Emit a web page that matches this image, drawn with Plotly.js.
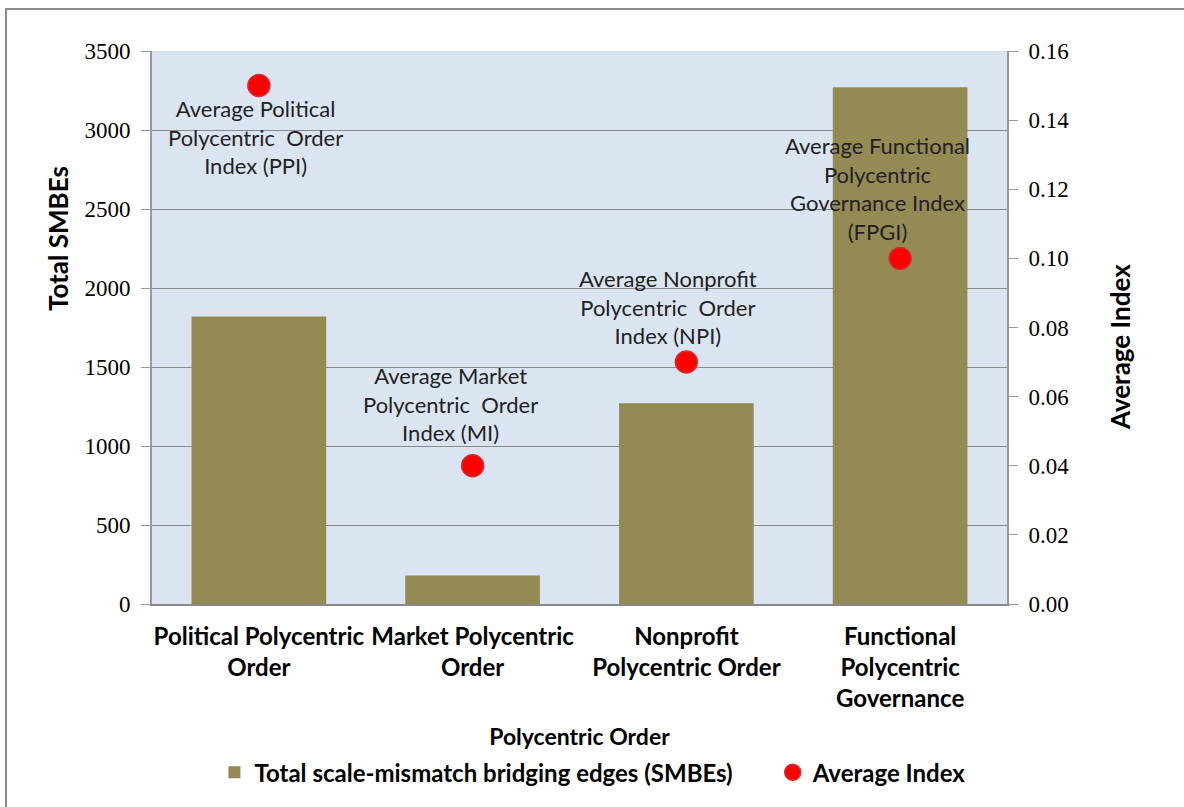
<!DOCTYPE html>
<html><head><meta charset="utf-8">
<script src="https://cdn.plot.ly/plotly-3.0.1.min.js"></script>
<style>body{margin:0;background:#fff;overflow:hidden}#frame{position:absolute;left:5px;top:8px;width:1200px;height:820px;border:2px solid #8c8c8c;pointer-events:none}</style>
</head><body>
<div id="chart" style="width:1184px;height:807px;"></div>
<div id="frame"></div>
<script>
const categories = ["Political Polycentric<br>Order","Market Polycentric<br>Order","Nonprofit<br>Polycentric Order","Functional<br>Polycentric<br>Governance"];
const totalSMBEs = [1820, 180, 1270, 3270];
const averageIndex = [0.15, 0.04, 0.07, 0.10];
const indexLabels = ["Average Political<br>Polycentric  Order<br>Index (PPI)","Average Market<br>Polycentric  Order<br>Index (MI)","Average Nonprofit<br>Polycentric  Order<br>Index (NPI)","Average Functional<br>Polycentric<br>Governance Index<br>(FPGI)"];
const seriesNames = ["Total scale-mismatch bridging edges (SMBEs)", "Average Index"];
const axisTitles = {x:"Polycentric Order", yLeft:"Total SMBEs", yRight:"Average Index"};

// label offsets from marker, in pixels (right, down)
const labelShift = [[-3,51],[-22,-62],[-18,-55],[-23,-70]];
const sans = "Lato, 'Open Sans', sans-serif";
const serif = "'Liberation Serif', 'DejaVu Serif', serif";
const pad = '\u00a0'.repeat(6);

const traces = [
  {type:'bar', x:[0,1,2,3], y:totalSMBEs, name:seriesNames[0] + pad,
   marker:{color:'#948A54'}, yaxis:'y'},
  {type:'scatter', mode:'markers', x:[0,1,2,3], y:averageIndex, name:seriesNames[1], yaxis:'y2',
   marker:{color:'#FF0000', size:22, line:{color:'#D03030', width:1.5}}}
];

const annotations = indexLabels.map((t,i)=>({
  x:i, y:averageIndex[i], xref:'x', yref:'y2', text:t, showarrow:false,
  xshift:labelShift[i][0], yshift:-labelShift[i][1],
  font:{family:sans, size:22, color:'#222'}, align:'center'
}));
annotations.push({xref:'paper', yref:'paper', x:-0.1099, y:0.660, text:axisTitles.yLeft, textangle:-90,
  showarrow:false, xanchor:'center', yanchor:'middle', font:{family:sans, size:26, color:'#000', weight:'bold'}});
annotations.push({xref:'paper', yref:'paper', x:1.1322, y:0.4647, text:axisTitles.yRight, textangle:-90,
  showarrow:false, xanchor:'center', yanchor:'middle', font:{family:sans, size:26, color:'#000', weight:'bold'}});

const layout = {
  width:1184, height:807,
  margin:{l:152, r:177, t:51, b:203},
  paper_bgcolor:'#fff', plot_bgcolor:'#DBE5F1',
  bargap:0.37, showlegend:true,
  legend:{orientation:'h', x:0.5157, xanchor:'center', y:-0.305, yanchor:'middle',
          font:{family:sans, size:24, color:'#000', weight:'bold'}, itemwidth:30, tracegroupgap:0},
  xaxis:{range:[-0.5,3.5], tickvals:[0,1,2,3], ticktext:categories, showgrid:false,
         showline:true, linecolor:'#888', linewidth:2, ticks:'', zeroline:false, ticklabelstandoff:10,
         tickfont:{family:sans, size:24, color:'#000', weight:'bold'},
         title:{text:axisTitles.x, font:{family:sans, size:23, color:'#000', weight:'bold'}, standoff:18}},
  yaxis:{range:[0,3500], dtick:500, showgrid:true, gridcolor:'#8a8a8a', gridwidth:1,
         showline:true, linecolor:'#999', linewidth:2, ticks:'outside', ticklen:9, tickcolor:'#999',
         zeroline:false, ticklabelstandoff:6, tickfont:{family:serif, size:23, color:'#000'}},
  yaxis2:{range:[0,0.16], dtick:0.02, tickformat:'.2f', overlaying:'y', side:'right', showgrid:false,
          showline:true, linecolor:'#999', linewidth:2, ticks:'outside', ticklen:9, tickcolor:'#999',
          zeroline:false, ticklabelstandoff:6, tickfont:{family:serif, size:23, color:'#000'}},
  annotations:annotations
};
Plotly.newPlot('chart', traces, layout, {displayModeBar:false, staticPlot:true});
</script>
</body></html>
